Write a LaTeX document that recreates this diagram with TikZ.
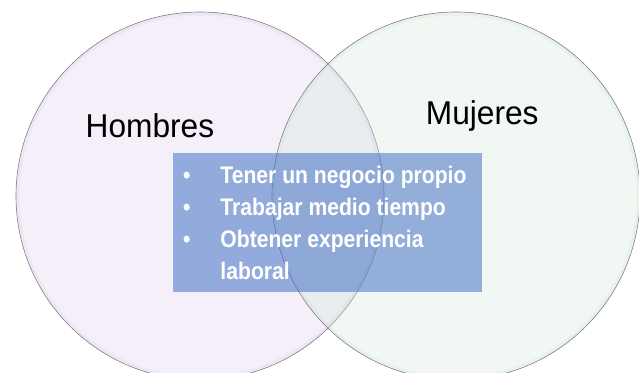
\documentclass[tikz,border=0pt]{standalone}
\usepackage{fontspec}
\setmainfont{Liberation Sans}
\usetikzlibrary{positioning}
\definecolor{hombrescolor}{RGB}{226,206,242}
\definecolor{mujerescolor}{RGB}{212,234,218}
\definecolor{listacolor}{RGB}{68,114,196}
\definecolor{bordecolor}{RGB}{125,125,132}

\begin{document}
\begin{tikzpicture}[x=1pt, y=-1pt,
    conjunto/.style={circle, draw=bordecolor, line width=0.6pt, minimum size=368pt, inner sep=0pt, fill opacity=0.32},
    titulo/.style={anchor=base west, inner sep=0pt, font=\fontsize{33}{40}\selectfont, xscale=0.96},
    zona/.style={fill=listacolor, fill opacity=0.55, minimum width=309pt, minimum height=139pt, inner sep=0pt}]
\useasboundingbox[fill=white] (0,0) rectangle (639,372);
% the two sets
\node[conjunto, fill=hombrescolor] (hombres) at (200,196) {};
\node[conjunto, fill=mujerescolor] (mujeres) at (456,196) {};
\draw[hombrescolor!70!black, line width=3pt, opacity=0.08] (hombres.center) circle[radius=182pt];
\draw[mujerescolor!70!black, line width=3pt, opacity=0.08] (mujeres.center) circle[radius=182pt];
% common part
\node[zona] (comun) at (327.5,222.5) {};
\node[titulo] (tituloH) at (85.5,137) {Hombres};
\node[titulo] (tituloM) at (425.7,124) {Mujeres};
\node[anchor=base west, inner sep=0pt, text=white, font=\bfseries\fontsize{24}{32}\selectfont, xscale=0.88] (puntos) at (183,183.5) {
    \begin{tabular}[t]{@{}l@{\hspace{34pt}}l@{}}
    \textbullet & Tener un negocio propio \\
    \textbullet & Trabajar medio tiempo \\
    \textbullet & Obtener experiencia \\
                & laboral \\
    \end{tabular}
};
\end{tikzpicture}
\end{document}
